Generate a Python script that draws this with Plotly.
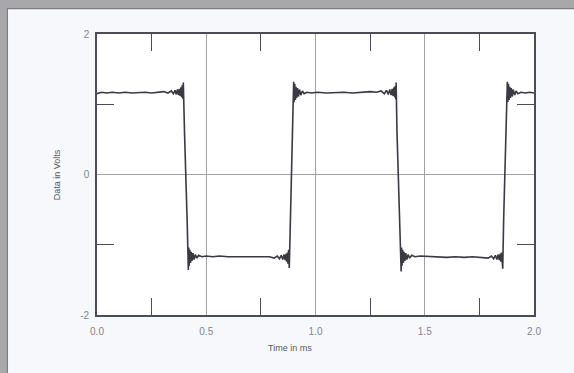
import plotly.graph_objects as go

# Sampled square-wave response (time in ms, amplitude in volts), with the
# ringing around each transition written out point by point.
time_ms = [
    0.000, 0.020, 0.045, 0.070, 0.100, 0.130, 0.160, 0.190, 0.220, 0.250,
    0.280, 0.305, 0.325, 0.340, 0.350, 0.357, 0.363, 0.368, 0.373, 0.377,
    0.381, 0.384, 0.387, 0.390, 0.393, 0.395,
    0.401, 0.407, 0.413, 0.418,
    0.420, 0.422, 0.425, 0.428, 0.431, 0.435, 0.439, 0.444, 0.450, 0.457,
    0.465, 0.480, 0.500, 0.530, 0.560, 0.600, 0.640, 0.680, 0.720, 0.760,
    0.790, 0.810, 0.825, 0.835, 0.843, 0.850, 0.856, 0.861, 0.865, 0.868,
    0.871, 0.874, 0.877, 0.880,
    0.885, 0.892, 0.897, 0.900,
    0.902, 0.905, 0.908, 0.911, 0.914, 0.918, 0.922, 0.927, 0.933, 0.940,
    0.948, 0.960, 0.980, 1.010, 1.050, 1.090, 1.130, 1.170, 1.210, 1.250,
    1.280, 1.300, 1.315, 1.325, 1.333, 1.340, 1.346, 1.351, 1.355, 1.359,
    1.362, 1.365, 1.367, 1.369,
    1.373, 1.378, 1.385, 1.392,
    1.394, 1.396, 1.399, 1.402, 1.405, 1.409, 1.413, 1.418, 1.424, 1.431,
    1.440, 1.455, 1.480, 1.520, 1.560, 1.600, 1.640, 1.680, 1.720, 1.760,
    1.790, 1.805, 1.815, 1.823, 1.830, 1.836, 1.841, 1.845, 1.848, 1.851,
    1.854, 1.857,
    1.861, 1.867, 1.873, 1.878,
    1.880, 1.883, 1.886, 1.889, 1.892, 1.896, 1.900, 1.905, 1.911, 1.918,
    1.926, 1.940, 1.960, 1.980, 2.000,
]
volts = [
    1.15, 1.17, 1.16, 1.17, 1.16, 1.17, 1.16, 1.17, 1.17, 1.16,
    1.17, 1.18, 1.16, 1.19, 1.15, 1.20, 1.14, 1.21, 1.13, 1.22,
    1.12, 1.24, 1.10, 1.27, 1.08, 1.31,
    0.55, 0.00, -0.70, -1.36,
    -1.04, -1.30, -1.07, -1.26, -1.10, -1.23, -1.12, -1.21, -1.14, -1.19,
    -1.15, -1.17, -1.16, -1.17, -1.16, -1.17, -1.17, -1.18, -1.17, -1.18,
    -1.17, -1.19, -1.16, -1.20, -1.15, -1.21, -1.14, -1.22, -1.13, -1.24,
    -1.11, -1.27, -1.07, -1.33,
    -0.65, 0.00, 0.70, 1.32,
    1.03, 1.29, 1.06, 1.25, 1.09, 1.23, 1.11, 1.21, 1.13, 1.19,
    1.15, 1.17, 1.16, 1.17, 1.16, 1.17, 1.17, 1.16, 1.17, 1.18,
    1.17, 1.19, 1.15, 1.20, 1.14, 1.21, 1.13, 1.22, 1.12, 1.24,
    1.10, 1.26, 1.07, 1.31,
    0.60, 0.00, -0.70, -1.38,
    -1.04, -1.30, -1.07, -1.26, -1.10, -1.23, -1.12, -1.21, -1.14, -1.19,
    -1.15, -1.17, -1.16, -1.17, -1.17, -1.18, -1.17, -1.18, -1.17, -1.18,
    -1.19, -1.16, -1.20, -1.15, -1.21, -1.14, -1.22, -1.13, -1.24, -1.11,
    -1.27, -1.34,
    -0.65, 0.00, 0.70, 1.32,
    1.03, 1.29, 1.06, 1.25, 1.09, 1.23, 1.11, 1.21, 1.13, 1.19,
    1.15, 1.17, 1.16, 1.17, 1.16,
]

x_tick_vals = [0.0, 0.5, 1.0, 1.5, 2.0]
x_tick_text = ["0.0", "0.5", "1.0", "1.5", "2.0"]
y_tick_vals = [-2, 0, 2]
y_tick_text = ["-2", "0", "2"]

AXIS = "#4c4c56"
GRID = "#a2a2a6"
LABEL = "#85858a"
TITLE = "#58585e"
FONT = "Liberation Sans, Arial, sans-serif"

fig = go.Figure()
fig.add_trace(go.Scatter(
    x=time_ms, y=volts, mode="lines",
    line=dict(color="#3a3a42", width=1.6),
    hoverinfo="skip", showlegend=False,
))

axis_common = dict(
    showline=True, linecolor=AXIS, linewidth=1.6, mirror="ticks",
    ticks="inside", ticklen=17, tickcolor=GRID, tickwidth=1,
    showgrid=True, gridcolor=GRID, gridwidth=1,
    zeroline=False,
    tickfont=dict(family=FONT, size=10, color=LABEL),
)

fig.update_xaxes(
    range=[0, 2], tickmode="array", tickvals=x_tick_vals, ticktext=x_tick_text,
    minor=dict(dtick=0.25, tick0=0, ticks="inside", ticklen=17,
               tickcolor=AXIS, tickwidth=1.3, showgrid=False),
    ticklabelstandoff=6,
    **axis_common,
)
fig.update_yaxes(
    range=[-2, 2], tickmode="array", tickvals=y_tick_vals, ticktext=y_tick_text,
    minor=dict(dtick=1, tick0=0, ticks="inside", ticklen=17,
               tickcolor=AXIS, tickwidth=1.3, showgrid=False),
    ticklabelstandoff=4,
    **axis_common,
)

# axis titles
fig.add_annotation(
    text="Time in ms", xref="paper", yref="paper", x=0.442, y=-0.142,
    showarrow=False, font=dict(family=FONT, size=9, color=TITLE),
)
fig.add_annotation(
    text="Data in Volts", xref="paper", yref="paper", x=-0.108, y=0.5,
    textangle=-90, showarrow=False,
    font=dict(family=FONT, size=9, color=TITLE),
)

# grey frame strips along the top and left of the panel
fig.add_shape(type="rect", xref="paper", yref="paper",
              x0=-0.23, x1=1.1, y0=1.092, y1=1.13,
              fillcolor="#a8a8aa", line=dict(width=0), layer="below")
fig.add_shape(type="rect", xref="paper", yref="paper",
              x0=-0.23, x1=-0.206, y0=-0.22, y1=1.13,
              fillcolor="#a8a8aa", line=dict(width=0), layer="below")
fig.add_shape(type="line", xref="paper", yref="paper",
              x0=-0.206, x1=1.1, y0=1.090, y1=1.090,
              line=dict(color="#7c7c82", width=1.2))
fig.add_shape(type="line", xref="paper", yref="paper",
              x0=-0.205, x1=-0.205, y0=-0.22, y1=1.090,
              line=dict(color="#7c7c82", width=1.2))

fig.update_layout(
    width=574, height=373,
    margin=dict(l=97, r=40, t=34, b=58),
    paper_bgcolor="#f6f8fb",
    plot_bgcolor="#ffffff",
    showlegend=False,
)

fig.write_html("out.html")
